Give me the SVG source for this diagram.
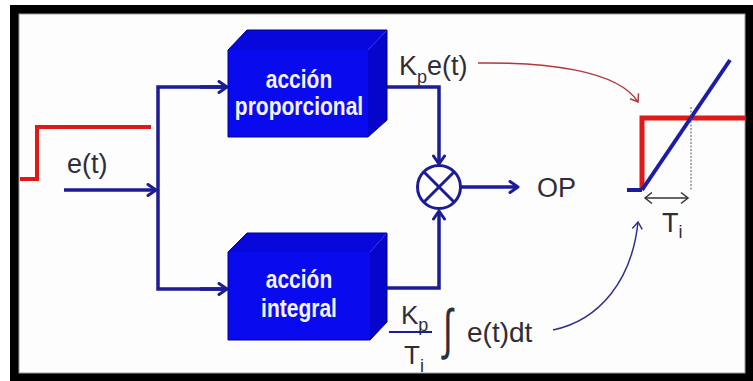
<svg xmlns="http://www.w3.org/2000/svg" width="753" height="381" viewBox="0 0 753 381">
  <style>
    .wire { fill: none; stroke: #1c1c96; stroke-width: 3.5; }
    .thin { fill: none; stroke-width: 1.5; }
    .lbl { font-family: "Liberation Sans", Arial, sans-serif; fill: #2e2e3a; }
    .blk { font-family: "Liberation Sans", Arial, sans-serif; font-weight: bold; fill: #f2f2fa; font-size: 21px; }
    .front { fill: #0a0aee; }
    .top { fill: #0808dc; }
    .side { fill: #0505cc; }
    .edge { fill: none; stroke: #00008a; stroke-width: 1; }
  </style>
  <defs>
    <marker id="arr" markerUnits="userSpaceOnUse" markerWidth="14" markerHeight="14" refX="10" refY="7" orient="auto">
      <path d="M2,1.5 L10,7 L2,12.5" fill="none" stroke="#1c1c96" stroke-width="3" stroke-linejoin="round" stroke-linecap="round"/>
    </marker>
    <marker id="arrRed" markerUnits="userSpaceOnUse" markerWidth="14" markerHeight="14" refX="10" refY="7" orient="auto">
      <path d="M3,2 L10,7 L3,12" fill="none" stroke="#b03838" stroke-width="1.5"/>
    </marker>
    <marker id="arrThin" markerUnits="userSpaceOnUse" markerWidth="14" markerHeight="14" refX="10" refY="7" orient="auto">
      <path d="M3,2 L10,7 L3,12" fill="none" stroke="#30308c" stroke-width="1.5"/>
    </marker>
    <marker id="arrDim" markerUnits="userSpaceOnUse" markerWidth="14" markerHeight="14" refX="10" refY="7" orient="auto-start-reverse">
      <path d="M3,1.5 L10,7 L3,12.5" fill="none" stroke="#333" stroke-width="1.5"/>
    </marker>
  </defs>

  <!-- frame -->
  <rect x="0" y="0" width="753" height="381" fill="#ffffff"/>
  <rect x="10" y="5" width="743" height="376" fill="#000000"/>
  <rect x="19" y="14" width="726" height="359" fill="#fdfdfd" stroke="#9a9a9a" stroke-width="1"/>

  <!-- input step -->
  <g id="input-step">
    <polyline points="20,179 37,179 37,127 151,127" fill="none" stroke="#e01818" stroke-width="4"/>
    <text class="lbl" x="67" y="173" font-size="27">e(t)</text>
  </g>

  <!-- connectors -->
  <g id="connectors">
    <line class="wire" x1="64" y1="190" x2="156" y2="190" marker-end="url(#arr)"/>
    <polyline class="wire" points="227,87 158,87 158,289 227,289"/>
    <line class="wire" x1="200" y1="87" x2="227" y2="87" marker-end="url(#arr)"/>
    <line class="wire" x1="200" y1="289" x2="227" y2="289" marker-end="url(#arr)"/>
    <polyline class="wire" points="387,87 439,87 439,164" marker-end="url(#arr)"/>
    <polyline class="wire" points="387,288 439,288 439,211" marker-end="url(#arr)"/>
    <line class="wire" x1="461" y1="187" x2="518" y2="187" marker-end="url(#arr)"/>
    <path class="thin" stroke="#b03838" d="M478,63 C545,62 618,70 638,102" marker-end="url(#arrRed)"/>
    <path class="thin" stroke="#30308c" d="M553,330 C600,320 632,280 638,222" marker-end="url(#arrThin)"/>
  </g>

  <!-- proportional block -->
  <g id="block-proporcional">
    <polygon class="top" points="228,50 247,30 387,30 368,50"/>
    <polygon class="side" points="368,50 387,30 387,120 368,137"/>
    <rect class="front" x="228" y="50" width="140" height="87"/>
    <polygon class="edge" points="228,50 247,30 387,30 387,120 368,137 228,137"/>
    <text class="blk" text-anchor="middle" transform="translate(299,88) scale(1,1.2)">acción</text>
    <text class="blk" text-anchor="middle" transform="translate(299,115) scale(1,1.2)">proporcional</text>
  </g>

  <!-- integral block -->
  <g id="block-integral">
    <polygon class="top" points="228,252 247,233 387,233 370,252"/>
    <polygon class="side" points="370,252 387,233 387,322 370,340"/>
    <rect class="front" x="228" y="252" width="142" height="88"/>
    <polygon class="edge" points="228,252 247,233 387,233 387,322 370,340 228,340"/>
    <text class="blk" text-anchor="middle" transform="translate(299,288) scale(1,1.2)">acción</text>
    <text class="blk" text-anchor="middle" transform="translate(299,317) scale(1,1.2)">integral</text>
  </g>

  <!-- summing junction -->
  <g id="junction">
    <circle cx="439" cy="187" r="21.5" fill="#ffffff" stroke="#1c1c96" stroke-width="3"/>
    <line x1="424" y1="172" x2="454" y2="202" stroke="#1c1c96" stroke-width="3"/>
    <line x1="454" y1="172" x2="424" y2="202" stroke="#1c1c96" stroke-width="3"/>
  </g>

  <g id="output-label">
    <text class="lbl" x="537" y="197" font-size="27">OP</text>
  </g>

  <!-- Kp e(t) label -->
  <g id="label-kp">
    <text class="lbl" x="399" y="75" font-size="27">K<tspan font-size="18" dy="8">p</tspan><tspan dy="-8">e(t)</tspan></text>
  </g>

  <!-- integral formula -->
  <g id="label-integral">
    <text class="lbl" x="401" y="324" font-size="26">K<tspan font-size="18" dy="7">p</tspan></text>
    <line x1="389" y1="332" x2="432" y2="332" stroke="#1c1c96" stroke-width="2"/>
    <text class="lbl" x="404" y="364" font-size="26">T<tspan font-size="18" dy="8">i</tspan></text>
    <text class="lbl" font-size="44" font-family="Liberation Serif, serif" transform="translate(443,348) scale(0.8,1.25)">∫</text>
    <text class="lbl" x="467" y="342" font-size="28">e(t)dt</text>
  </g>

  <!-- response graph -->
  <g id="response">
    <polyline points="642,190 642,118 745,118" fill="none" stroke="#e01818" stroke-width="5"/>
    <line x1="627" y1="190" x2="642" y2="190" stroke="#1c1c96" stroke-width="4"/>
    <line x1="642" y1="190" x2="730" y2="60" stroke="#1c1ca6" stroke-width="4"/>
    <line x1="691" y1="107" x2="691" y2="190" stroke="#555" stroke-width="1" stroke-dasharray="2,1.5"/>
    <line x1="645" y1="198" x2="688" y2="198" stroke="#333" stroke-width="1.5" marker-start="url(#arrDim)" marker-end="url(#arrDim)"/>
    <text class="lbl" x="662" y="232" font-size="27">T<tspan font-size="18" dy="6">i</tspan></text>
  </g>
</svg>
